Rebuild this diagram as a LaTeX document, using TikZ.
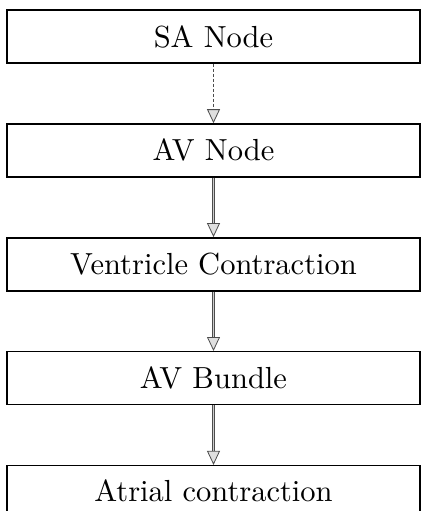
\documentclass[tikz,border=0pt]{standalone}
\usepackage{tikz}
\usetikzlibrary{arrows.meta, positioning}
\newcommand{\stagelabel}[1]{\scalebox{3.05}{#1}}

\begin{document}
\begin{tikzpicture}[
    >={Triangle[length=14pt, width=13pt, color=gray!60!black, fill=gray!25]},
    stage/.style={rectangle, draw=black, line width=1.4pt,
                  minimum width=413pt, minimum height=53pt,
                  inner sep=0pt, text centered},
    flow/.style={->, draw=gray!60!black, double=gray!40, line width=0.8pt,
                 double distance=1.4pt},
    firstflow/.style={->, draw=gray!60!black, line width=0.8pt, densely dashed}
]
\useasboundingbox (0,0) rectangle (422pt,-511pt);

% --- Nodes --------------------------------------------------------------
\node[stage] (sa) at (213.5pt,-36.5pt) {\stagelabel{SA Node}};
\node[stage, below=59.5pt of sa]  (av)   {\stagelabel{AV Node}};
\node[stage, below=59.5pt of av]  (vc)   {\stagelabel{Ventricle Contraction}};
\node[stage, below=59.5pt of vc]  (avb)  {\stagelabel{AV Bundle}};
\node[stage, below=59.5pt of avb, minimum height=50pt] (atr) {\stagelabel{Atrial contraction}};

% --- Flow ---------------------------------------------------------------
\draw[firstflow] (sa) -- (av);
\draw[flow] (av)  -- (vc);
\draw[flow] (vc)  -- (avb);
\draw[flow] (avb) -- (atr);

\end{tikzpicture}
\end{document}
